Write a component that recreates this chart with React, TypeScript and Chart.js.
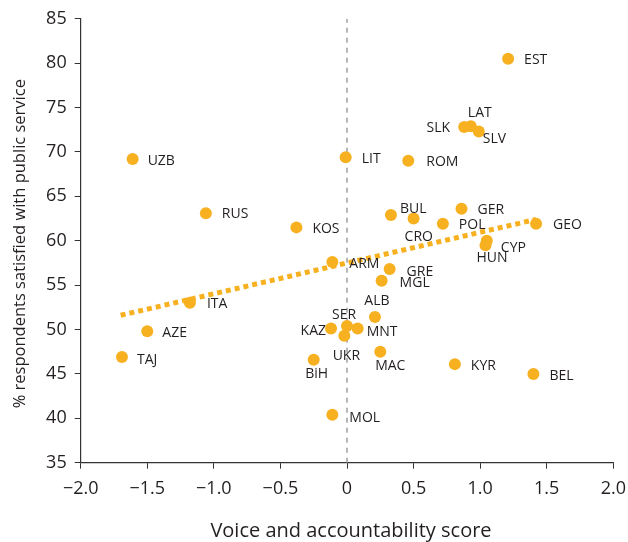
import React, { useEffect, useRef } from 'react';
import { Chart, registerables } from 'chart.js';
Chart.register(...registerables);

const countries = ['EST','LAT','SLK','SLV','UZB','LIT','ROM','BUL','GER','RUS','CRO','POL','GEO','KOS','CYP','HUN','ARM','GRE','MGL','ITA','ALB','SER','KAZ','MNT','AZE','UKR','MAC','TAJ','BiH','KYR','BEL','MOL'];
const voiceScore = [1.21,0.93,0.88,0.99,-1.61,-0.01,0.46,0.33,0.86,-1.06,0.50,0.72,1.42,-0.38,1.05,1.04,-0.11,0.32,0.26,-1.18,0.21,0.0,-0.12,0.08,-1.50,-0.02,0.25,-1.69,-0.25,0.81,1.40,-0.11];
const satisfied = [80.5,72.9,72.8,72.3,69.2,69.4,69.0,62.9,63.6,63.1,62.5,61.9,61.9,61.5,60.0,59.5,57.6,56.8,55.5,53.0,51.4,50.4,50.1,50.1,49.8,49.3,47.5,46.9,46.6,46.1,45.0,40.4];

const trendX = [-1.7, 1.42];
const trendY = [51.6, 62.4];

const xTicksRange = [-2, 2];
const yTicksRange = [35, 85];

const xTitle = 'Voice and accountability score';
const yTitle = '% respondents satisfied with public service';

// label placement (pixel offsets from point, alignment)
const labelPlacement: [number, number, CanvasTextAlign][] = [
  [16,0,'left'],[-3,-14,'left'],[-14,0,'right'],[4,7,'left'],[15,1,'left'],[16,1,'left'],[18,0,'left'],
  [9,-7,'left'],[16,0,'left'],[16,0,'left'],[-9,17,'left'],[16,0,'left'],[17,0,'left'],[16,1,'left'],
  [14,6,'left'],[-9,12,'left'],[17,1,'left'],[17,2,'left'],[18,1,'left'],[17,0,'left'],[2,-17,'center'],
  [-3,-12,'center'],[-5,1.5,'right'],[9,2,'left'],[15,1,'left'],[2,19,'center'],[10,13,'center'],
  [15,2,'left'],[3,13,'center'],[16,1,'left'],[16,1,'left'],[17,2,'left'],
];

const ORANGE = '#F7B120';
const TEXT = '#231f20';
const FONT = '"Open Sans"';

const labelsPlugin = {
  id: 'pointLabels',
  afterDatasetsDraw(chart: any) {
    const ctx = chart.ctx;
    const meta = chart.getDatasetMeta(2);
    ctx.save();
    ctx.font = `14px ${FONT}`;
    ctx.fillStyle = TEXT;
    ctx.textBaseline = 'alphabetic';
    meta.data.forEach((pt: any, i: number) => {
      const [dx, dy, align] = labelPlacement[i];
      ctx.textAlign = align;
      ctx.fillText(countries[i], pt.x + dx, pt.y + dy + 5);
    });
    ctx.restore();
  },
  afterDraw(chart: any) {
    const ctx = chart.ctx;
    const ca = chart.chartArea;
    ctx.save();
    ctx.fillStyle = TEXT;
    ctx.textAlign = 'center';
    ctx.textBaseline = 'alphabetic';
    ctx.font = `20px ${FONT}`;
    ctx.fillText(xTitle, (ca.left + ca.right) / 2 + 4, 537);
    ctx.font = `16.5px ${FONT}`;
    ctx.translate(25, (ca.top + ca.bottom) / 2 + 3);
    ctx.rotate(-Math.PI / 2);
    ctx.fillText(yTitle, 0, 0);
    ctx.restore();
  },
};

export default function App() {
  const ref = useRef<HTMLCanvasElement>(null);
  useEffect(() => {
    if (!ref.current) return;
    const chart = new Chart(ref.current, {
      type: 'scatter',
      data: {
        datasets: [
          {
            type: 'line',
            data: [{ x: 0, y: yTicksRange[0] }, { x: 0, y: yTicksRange[1] }],
            borderColor: '#a6a6a6',
            borderWidth: 1.6,
            borderDash: [5, 5],
            pointRadius: 0,
            order: 3,
          } as any,
          {
            type: 'line',
            data: trendX.map((x, i) => ({ x, y: trendY[i] })),
            borderColor: ORANGE,
            borderWidth: 5,
            borderDash: [5, 4],
            borderCapStyle: 'butt',
            pointRadius: 0,
            order: 2,
          } as any,
          {
            data: voiceScore.map((x, i) => ({ x, y: satisfied[i] })),
            backgroundColor: ORANGE,
            borderWidth: 0,
            pointRadius: 6,
            order: 1,
          },
        ],
      },
      options: {
        animation: false,
        responsive: true,
        maintainAspectRatio: false,
        layout: { padding: { top: 18.7, right: 14.7, left: 0, bottom: 0 } },
        plugins: { legend: { display: false }, tooltip: { enabled: false } },
        scales: {
          x: {
            type: 'linear',
            min: xTicksRange[0],
            max: xTicksRange[1],
            afterFit: (s: any) => { s.height = 79.3; s.paddingLeft = 0; s.paddingRight = 0; },
            ticks: {
              stepSize: 0.5,
              color: TEXT,
              font: { family: FONT, size: 18 },
              padding: 9,
              maxRotation: 0,
              callback: (v: any) => (v === 0 ? '0' : Number(v).toFixed(1).replace('-', '\u2212')),
            },
            grid: { drawOnChartArea: false, drawTicks: true, tickLength: 6, color: '#333' },
            border: { display: true, color: '#333', width: 1.2 },
          },
          y: {
            type: 'linear',
            min: yTicksRange[0],
            max: yTicksRange[1],
            afterFit: (s: any) => { s.width = 80.7; s.paddingTop = 0; s.paddingBottom = 0; },
            ticks: {
              stepSize: 5,
              color: TEXT,
              font: { family: FONT, size: 18 },
              padding: 8,
            },
            grid: { drawOnChartArea: false, drawTicks: true, tickLength: 6, color: '#333' },
            border: { display: true, color: '#333', width: 1.2 },
          },
        },
      },
      plugins: [labelsPlugin],
    } as any);
    return () => chart.destroy();
  }, []);
  return (
    <div style={{ position: 'fixed', left: 0, top: 0, width: 628, height: 542 }}>
      <canvas ref={ref} />
    </div>
  );
}
